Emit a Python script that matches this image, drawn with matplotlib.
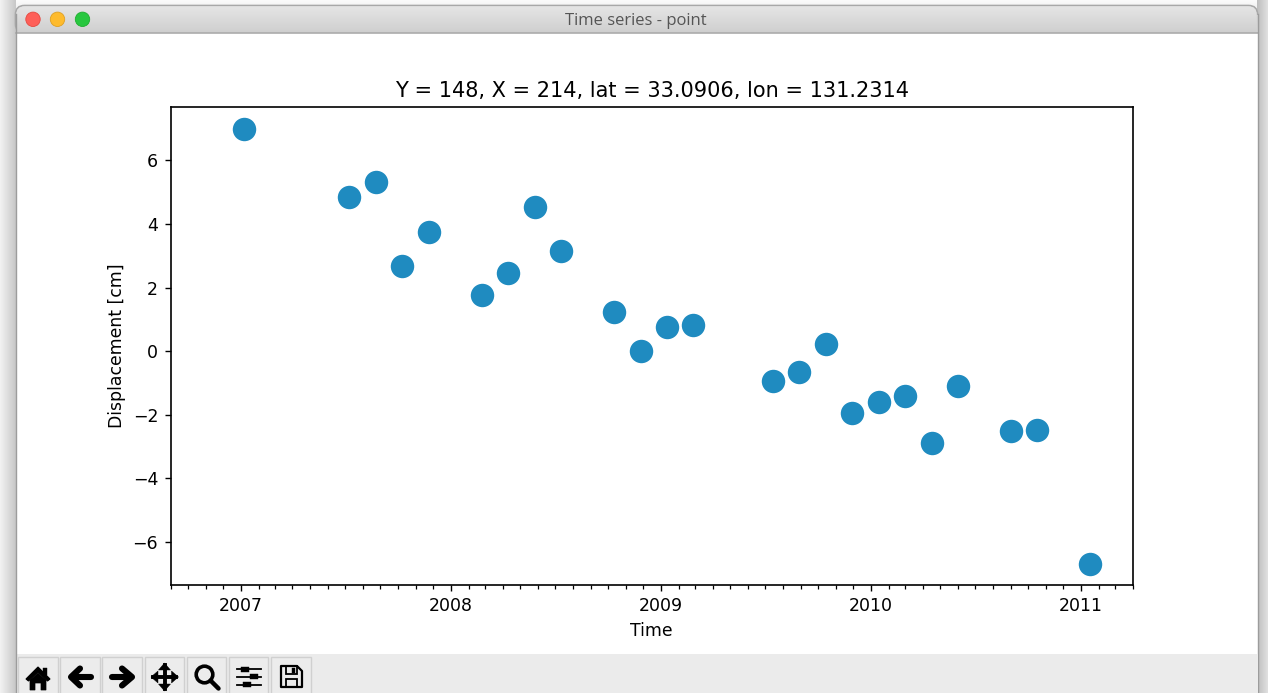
import numpy as np
import pandas as pd
import matplotlib
matplotlib.use("Agg")
import matplotlib.pyplot as plt
import matplotlib.dates as mdates
from matplotlib.patches import Circle, FancyBboxPatch, Polygon, Rectangle

dates = ["2007-01-06", "2007-07-09", "2007-08-24", "2007-10-09", "2007-11-24",
         "2008-02-24", "2008-04-10", "2008-05-26", "2008-07-11", "2008-10-11",
         "2008-11-26", "2009-01-11", "2009-02-26", "2009-07-14", "2009-08-29",
         "2009-10-14", "2009-11-29", "2010-01-14", "2010-03-01", "2010-04-16",
         "2010-06-01", "2010-09-01", "2010-10-17", "2011-01-17"]
displacement = [6.98, 4.86, 5.33, 2.68, 3.76, 1.77, 2.47, 4.55, 3.16, 1.24,
                0.0, 0.77, 0.83, -0.94, -0.65, 0.22, -1.95, -1.6, -1.42, -2.9,
                -1.1, -2.53, -2.5, -6.7]
title = "Y = 148, X = 214, lat = 33.0906, lon = 131.2314"
x_range = ["2006-09-01", "2011-04-01"]
y_range = [-7.37, 7.685]

W, H = 1268, 693
fig = plt.figure(figsize=(W / 100, H / 100), dpi=100, facecolor="white")

# ---------- window chrome, in pixel coordinates ----------
bg = fig.add_axes([0, 0, 1, 1], zorder=0)
bg.set_xlim(0, W)
bg.set_ylim(H, 0)
bg.axis("off")


def band(x0, x1, y0, y1, c0, c1, vertical=False, z=1):
    g = np.linspace(c0, c1, 64)
    g = g[:, None] if vertical else g[None, :]
    return bg.imshow(g, cmap="gray", vmin=0, vmax=1, extent=(x0, x1, y1, y0),
                     aspect="auto", interpolation="bilinear", zorder=z)


band(0, W, 0, 8, 0.985, 0.94, vertical=True)
band(0, 15.5, 0, H, 0.95, 0.78)
band(1257, W, 0, H, 0.74, 0.88)
bg.set_xlim(0, W)
bg.set_ylim(H, 0)

bar = FancyBboxPatch((15.5, 5.5), 1242, 27.5, boxstyle="round,pad=0,rounding_size=9",
                     fc="#dcdcdc", ec="#a8a8a8", lw=1.2, zorder=2)
bg.add_patch(bar)
bg.add_patch(Rectangle((15.5, 15), 1242, 18, fc="#d4d4d4", ec="none", zorder=2))
grad = band(15.5, 1257.5, 5.5, 33, 0.90, 0.81, vertical=True, z=3)
grad.set_clip_path(FancyBboxPatch((16.3, 6.3), 1240.4, 60,
                                  boxstyle="round,pad=0,rounding_size=8.5",
                                  transform=bg.transData))
bg.set_xlim(0, W)
bg.set_ylim(H, 0)
bg.add_patch(Rectangle((15.5, 33), 1242, H - 33, fc="white", ec="none", zorder=4))
bg.plot([15.5, 1257.5], [32.5, 32.5], color="#ababab", lw=1.2, zorder=5)
bg.plot([15.5, 15.5], [14, H], color="#9c9c9c", lw=1.0, zorder=5)
bg.plot([1257.5, 1257.5], [14, H], color="#9c9c9c", lw=1.0, zorder=5)
for cx, fc, ec in [(33, "#fe5f58", "#e5483f"), (57.5, "#febb2d", "#dfa023"),
                   (82.5, "#28c73f", "#1fae2f")]:
    bg.add_patch(Circle((cx, 19.3), 7.2, fc=fc, ec=ec, lw=0.6, zorder=6))
bg.text(636, 21.3, "Time series - point", ha="center", va="center",
        fontsize=12, color="#555555", family="Open Sans", zorder=6)

# toolbar
bg.add_patch(Rectangle((16, 654), 1241, H - 654, fc="#ebebeb", ec="none", zorder=4))
button_x = [17.5, 59.5, 101.5, 144, 186, 228, 270.5]
for bx in button_x:
    bg.add_patch(Rectangle((bx + 0.5, 656.5), 39.5, 40, fc="#ececec", ec="#d0d0d0",
                           lw=1.0, zorder=5))
K = "black"
Z = 7
# home
bg.add_patch(Polygon([(26, 679), (38, 667), (50, 679), (47.5, 681), (38, 672), (28.5, 681)],
                     fc=K, ec=K, lw=0.8, zorder=Z))
bg.add_patch(Polygon([(30, 680), (38, 673), (46, 680), (46, 690), (41, 690), (41, 683),
                      (35, 683), (35, 690), (30, 690)], fc=K, ec=K, lw=0.5, zorder=Z))
bg.add_patch(Rectangle((43, 668), 3.5, 7, fc=K, ec=K, lw=0.3, zorder=Z))
# arrows
bg.plot([72, 91], [677, 677], color=K, lw=4.4, solid_capstyle="round", zorder=Z)
bg.plot([80, 71, 80], [668.5, 677, 685.5], color=K, lw=4.4, solid_capstyle="round",
        solid_joinstyle="round", zorder=Z)
bg.plot([112, 131], [677, 677], color=K, lw=4.4, solid_capstyle="round", zorder=Z)
bg.plot([122, 132, 122], [668.5, 677, 685.5], color=K, lw=4.4, solid_capstyle="round",
        solid_joinstyle="round", zorder=Z)
# move
bg.plot([153, 176], [677, 677], color=K, lw=2.8, zorder=Z)
bg.plot([164.5, 164.5], [665, 689], color=K, lw=2.8, zorder=Z)
for pts in [[(164.5, 663), (158.5, 670), (170.5, 670)], [(164.5, 691), (158.5, 684), (170.5, 684)],
            [(151, 677), (158, 671), (158, 683)], [(178.5, 677), (171.5, 671), (171.5, 683)]]:
    bg.add_patch(Polygon(pts, fc=K, ec=K, lw=0.3, zorder=Z))
# zoom
bg.add_patch(Circle((204.5, 674.5), 8.3, fc="none", ec=K, lw=2.6, zorder=Z))
bg.plot([210.5, 218.5], [680.5, 688.5], color=K, lw=3.2, solid_capstyle="round", zorder=Z)
# sliders
for y, sx in [(669, 241), (676.5, 250), (684.5, 243)]:
    bg.plot([237, 261], [y, y], color=K, lw=1.3, zorder=Z)
    bg.add_patch(Rectangle((sx, y - 2.5), 7.5, 5, fc=K, ec=K, lw=0.3, zorder=Z))
# save
bg.add_patch(Polygon([(281, 666), (297, 666), (302, 671), (302, 687), (281, 687)], fc="#ececec",
                     ec=K, lw=1.6, joinstyle="round", zorder=Z))
bg.add_patch(Rectangle((286, 666), 11, 8, fc="none", ec=K, lw=1.3, zorder=Z))
bg.add_patch(Rectangle((292, 667.5), 3, 5, fc=K, ec=K, lw=0.3, zorder=Z))
bg.add_patch(Rectangle((286, 679), 11, 8, fc="none", ec=K, lw=1.3, zorder=Z))

# ---------- chart ----------
L, R, T, B = 170.5, 1133, 107, 585
ax = fig.add_axes([L / W, 1 - B / H, (R - L) / W, (B - T) / H], zorder=1)
ax.patch.set_facecolor("white")
ax.scatter(pd.to_datetime(dates), displacement, s=285, c="#1f8bc0", linewidths=0, zorder=3)
ax.set_xlim(pd.Timestamp(x_range[0]), pd.Timestamp(x_range[1]))
ax.set_ylim(*y_range)
ax.xaxis.set_major_locator(mdates.YearLocator())
ax.xaxis.set_major_formatter(mdates.DateFormatter("%Y"))
ax.xaxis.set_minor_locator(mdates.MonthLocator())
ax.set_yticks([-6, -4, -2, 0, 2, 4, 6])
ax.tick_params(axis="both", which="major", labelsize=12.5, length=4.4, width=1.0, pad=4.5)
ax.tick_params(axis="x", which="minor", length=2.6, width=0.9)
for s in ax.spines.values():
    s.set_linewidth(1.2)
ax.set_xlabel("Time", fontsize=12.4, labelpad=5)
ax.set_ylabel("Displacement [cm]", fontsize=12.4, labelpad=5)
ax.set_title(title, fontsize=15, pad=7.5)

fig.savefig("out.png", dpi=100)
